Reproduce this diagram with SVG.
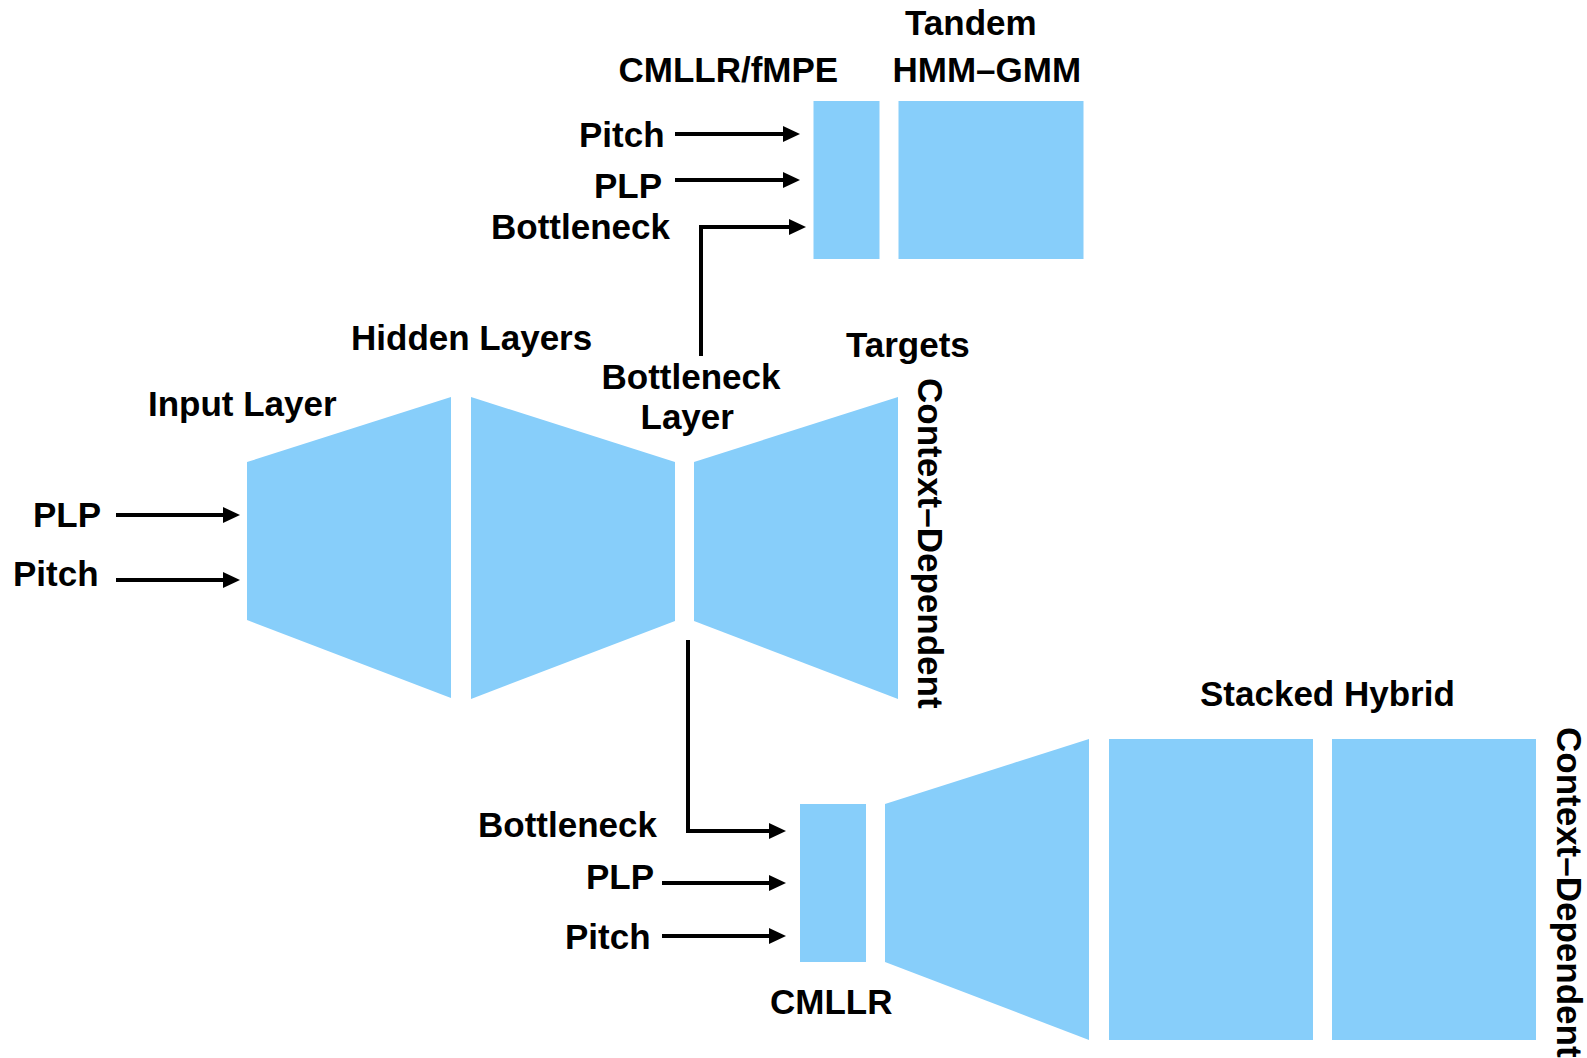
<svg xmlns="http://www.w3.org/2000/svg" width="1587" height="1058" viewBox="0 0 1587 1058">
  <style>
    .blk { fill: #87CEFA; stroke: none; }
    .lbl { font-family: "Liberation Sans", Arial, Helvetica, sans-serif; font-weight: bold; font-size: 35px; fill: #000; }
    .end { text-anchor: end; }
    .wire { fill: none; stroke: #000; stroke-width: 4; marker-end: url(#head); }
  </style>
  <defs>
    <marker id="head" markerUnits="userSpaceOnUse" markerWidth="17" markerHeight="16" refX="5" refY="8" orient="auto">
      <path d="M0,0 L17,8 L0,16 Z" fill="#000"/>
    </marker>
  </defs>
  <rect width="1587" height="1058" fill="#fff"/>

  <!-- bottleneck network -->
  <g id="input-layer">
    <polygon class="blk" points="247,462 451,397 451,698 247,620"/>
    <text class="lbl" x="148" y="416">Input Layer</text>
  </g>
  <g id="hidden-layers">
    <polygon class="blk" points="471,397 675,462 675,621 471,699"/>
    <text class="lbl" x="351" y="350">Hidden Layers</text>
  </g>
  <g id="bottleneck-layer">
    <text class="lbl" x="601.5" y="389">Bottleneck</text>
    <text class="lbl" x="640.5" y="429">Layer</text>
  </g>
  <g id="output-layer">
    <polygon class="blk" points="694,462 898,397 898,699 694,621"/>
    <text class="lbl" x="846" y="357">Targets</text>
    <text class="lbl" transform="translate(918,378) rotate(90)">Context–Dependent</text>
  </g>
  <g id="net-inputs">
    <text class="lbl" x="33" y="527">PLP</text>
    <text class="lbl" x="13" y="586">Pitch</text>
  </g>

  <!-- tandem system -->
  <g id="cmllr-fmpe">
    <rect class="blk" x="813.5" y="101" width="66" height="158"/>
    <text class="lbl" x="618.5" y="82">CMLLR/fMPE</text>
  </g>
  <g id="tandem-hmm-gmm">
    <rect class="blk" x="898.5" y="101" width="185" height="158"/>
    <text class="lbl" x="905" y="35">Tandem</text>
    <text class="lbl" x="892.5" y="82">HMM–GMM</text>
  </g>
  <g id="tandem-inputs">
    <text class="lbl" x="579" y="147">Pitch</text>
    <text class="lbl end" x="662" y="198">PLP</text>
    <text class="lbl" x="491" y="239">Bottleneck</text>
  </g>

  <!-- stacked hybrid system -->
  <g id="cmllr">
    <rect class="blk" x="800" y="804" width="66" height="158"/>
    <text class="lbl" x="770" y="1014">CMLLR</text>
  </g>
  <g id="stacked-hybrid">
    <polygon class="blk" points="885,804 1089,739 1089,1040 885,962"/>
    <rect class="blk" x="1109" y="739" width="204" height="301"/>
    <rect class="blk" x="1332" y="739" width="204" height="301"/>
    <text class="lbl" x="1200" y="706">Stacked Hybrid</text>
    <text class="lbl" transform="translate(1557,727) rotate(90)">Context–Dependent</text>
  </g>
  <g id="hybrid-inputs">
    <text class="lbl" x="478" y="837">Bottleneck</text>
    <text class="lbl" x="586" y="889">PLP</text>
    <text class="lbl" x="565" y="949">Pitch</text>
  </g>

  <!-- connectors -->
  <g id="connectors">
    <path class="wire" d="M116,515 H228"/>
    <path class="wire" d="M116,580 H228"/>
    <path class="wire" d="M675,134 H788"/>
    <path class="wire" d="M675,180 H788"/>
    <path class="wire" d="M701,356 V227 H794"/>
    <path class="wire" d="M688,640 V831 H774"/>
    <path class="wire" d="M662,883 H774"/>
    <path class="wire" d="M662,936 H774"/>
  </g>
</svg>
